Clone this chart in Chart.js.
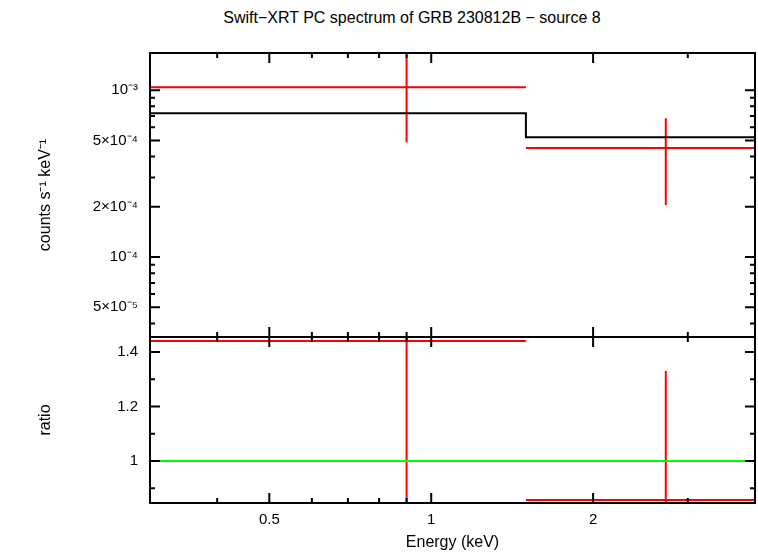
<!DOCTYPE html>
<html><head><meta charset="utf-8">
<script src="https://cdn.jsdelivr.net/npm/chart.js@4"></script>
<style>
body{margin:0;background:#fff;width:758px;height:556px;position:relative;overflow:hidden;font-family:"Liberation Sans",Arial,sans-serif}
#t{position:absolute;top:9px;left:0;width:758px;text-align:center;font-size:16px;padding-left:150px;box-sizing:border-box}
#t span{position:relative;left:-42px}
canvas{position:absolute;left:0}
</style></head><body>
<div id="t"><span>Swift−XRT PC spectrum of GRB 230812B − source 8</span></div>
<div style="position:absolute;left:0;top:0;width:758px;height:338px"><canvas id="c1"></canvas></div>
<div style="position:absolute;left:0;top:337px;width:758px;height:219px"><canvas id="c2"></canvas></div>
<script>
const binLo=[0.3,1.5], binHi=[1.5,4], binCenter=[0.9,2.73];
const dataRate=[1.04e-3,4.5e-4], dataRateHi=[1.62e-3,6.8e-4], dataRateLo=[4.88e-4,2.05e-4];
const modelRate=[7.28e-4,5.23e-4];
const ratio=[1.44,0.857], ratioHi=[1.6,1.33], ratioLo=[0.8,0.8];
const xTicks=[0.5,1,2], xTickLabels=['0.5','1','2'];
const xMinor=[0.3,0.4,0.6,0.7,0.8,0.9,3,4];
const yTopTicks=[1e-3,5e-4,2e-4,1e-4,5e-5], yTopLabels=['10⁻³','5×10⁻⁴','2×10⁻⁴','10⁻⁴','5×10⁻⁵'];
const yTopMinor=[4e-5,6e-5,7e-5,8e-5,9e-5,3e-4,4e-4,6e-4,7e-4,8e-4,9e-4];
const yBotTicks=[1,1.2,1.4], yBotLabels=['1','1.2','1.4'];
const yBotMinor=[0.9,1.1,1.3];
const F="'Liberation Sans', Arial, sans-serif";

function errSegs(lo,hi,y,ylo,yhi){
  const h=[],v=[];
  for(let i=0;i<y.length;i++){
    h.push({x:lo[i],y:y[i]},{x:hi[i],y:y[i]},{x:hi[i],y:null});
    v.push({x:binCenter[i],y:ylo[i]},{x:binCenter[i],y:yhi[i]},{x:binCenter[i],y:null});
  }
  return h.concat(v);
}
function stepModel(){
  const p=[];
  for(let i=0;i<modelRate.length;i++){p.push({x:binLo[i],y:modelRate[i]},{x:binHi[i],y:modelRate[i]});}
  return p;
}
const frame={id:'frame',afterDraw(c,a,o){
  const {ctx,chartArea:ca,scales}=c;ctx.save();ctx.strokeStyle='#000';ctx.lineWidth=2;
  ctx.strokeRect(ca.left,ca.top,ca.right-ca.left,ca.bottom-ca.top);
  const xs=scales.x, ys=scales.y;
  const tk=(vals,len)=>{vals.forEach(v=>{const p=xs.getPixelForValue(v);if(p<ca.left||p>ca.right)return;
    ctx.beginPath();ctx.moveTo(p,ca.bottom);ctx.lineTo(p,ca.bottom-len);ctx.moveTo(p,ca.top);ctx.lineTo(p,ca.top+len);ctx.stroke();});};
  const tky=(vals,len)=>{vals.forEach(v=>{const p=ys.getPixelForValue(v);if(p<ca.top||p>ca.bottom)return;
    ctx.beginPath();ctx.moveTo(ca.left,p);ctx.lineTo(ca.left+len,p);ctx.moveTo(ca.right,p);ctx.lineTo(ca.right-len,p);ctx.stroke();});};
  tk(xTicks,10);tk(xMinor,5);tky(o.maj,10);tky(o.min,5);
  ctx.restore();
}};
const ds=(data,color)=>({data,borderColor:color,borderWidth:2,pointRadius:0,spanGaps:false,fill:false,tension:0});
const common={responsive:true,maintainAspectRatio:false,animation:false,events:[],plugins:{legend:{display:false},tooltip:{enabled:false}}};
const fitY=(s)=>{s.width=150;s.paddingTop=0;s.paddingBottom=0;};

new Chart(document.getElementById('c1'),{type:'line',
 data:{datasets:[ds(stepModel(),'#000'),ds(errSegs(binLo,binHi,dataRate,dataRateLo,dataRateHi),'#f00')]},
 options:{...common,layout:{padding:{top:53,right:3,bottom:1,left:0}},
  plugins:{...common.plugins,frame:{maj:yTopTicks,min:yTopMinor}},
  scales:{
   x:{type:'logarithmic',min:0.3,max:4,display:false},
   y:{type:'logarithmic',min:3.32e-5,max:1.67e-3,grid:{display:false,drawTicks:false},border:{display:false},
    afterFit:fitY,
    afterBuildTicks(s){s.ticks=yTopTicks.map(v=>({value:v}));},
    ticks:{color:'#000',font:{family:F,size:15},padding:12,callback:(v)=>{const i=yTopTicks.findIndex(t=>Math.abs(t-v)/t<1e-6);return i>=0?yTopLabels[i]:'';}},
    title:{display:true,text:'counts s⁻¹ keV⁻¹',color:'#000',font:{family:F,size:16},padding:{top:36,bottom:0}}}}},
 plugins:[frame]});

new Chart(document.getElementById('c2'),{type:'line',
 data:{datasets:[
  ds([{x:0.3,y:1},{x:4,y:1}],'#0f0'),
  ds(errSegs(binLo,binHi,ratio,ratioLo,ratioHi),'#f00')]},
 options:{...common,layout:{padding:{top:0,right:3,bottom:0,left:0}},
  plugins:{...common.plugins,frame:{maj:yBotTicks,min:yBotMinor}},
  scales:{
   x:{type:'logarithmic',min:0.3,max:4,grid:{display:false,drawTicks:false},border:{display:false},
    afterFit(s){s.height=53;s.paddingLeft=0;s.paddingRight=0;},
    afterBuildTicks(s){s.ticks=xTicks.map(v=>({value:v}));},
    ticks:{color:'#000',font:{family:F,size:15},padding:8,maxRotation:0,callback:(v)=>{const i=xTicks.indexOf(v);return i>=0?xTickLabels[i]:'';}},
    title:{display:true,text:'Energy (keV)',color:'#000',font:{family:F,size:16},padding:{top:2}}},
   y:{type:'linear',min:0.846,max:1.455,grid:{display:false,drawTicks:false},border:{display:false},
    afterFit:fitY,
    afterBuildTicks(s){s.ticks=yBotTicks.map(v=>({value:v}));},
    ticks:{color:'#000',font:{family:F,size:15},padding:12,callback:(v)=>{const i=yBotTicks.findIndex(t=>Math.abs(t-v)<1e-6);return i>=0?yBotLabels[i]:'';}},
    title:{display:true,text:'ratio',color:'#000',font:{family:F,size:16},padding:{top:36,bottom:0}}}}},
 plugins:[frame]});
</script></body></html>
